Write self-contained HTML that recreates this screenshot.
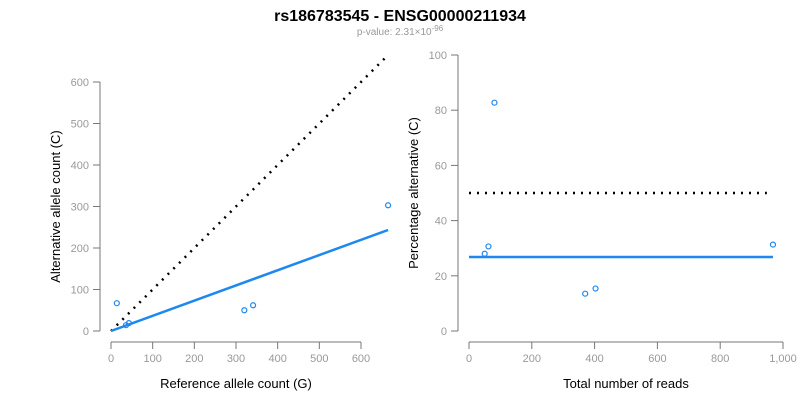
<!DOCTYPE html>
<html><head><meta charset="utf-8"><style>
body{margin:0;background:#fff;font-family:"Liberation Sans",sans-serif}
</style></head><body>
<svg width="800" height="400" font-family="Liberation Sans, sans-serif">
<text x="400" y="21" text-anchor="middle" font-weight="bold" font-size="16">rs186783545 - ENSG00000211934</text>
<text x="400" y="35" text-anchor="middle" font-size="10" fill="#999">p-value: 2.31×10<tspan dy="-4" font-size="8">-96</tspan></text>
<g id="left"></g>
<g id="right"></g>
</svg>
<script>
const refCounts=[14,36,43,320,341,665];
const altCounts=[67,14,19,50,62,303];
const leftXTicks=[0,100,200,300,400,500,600];
const leftYTicks=[0,100,200,300,400,500,600];
const rightXTicks=[0,200,400,600,800,1000];
const rightXLabels=["0","200","400","600","800","1,000"];
const rightYTicks=[0,20,40,60,80,100];
const fitSlope=0.366;
const fitPct=26.8;
const nullPct=50;
const NS="http://www.w3.org/2000/svg";
function mk(p,t,a){const e=document.createElementNS(NS,t);for(const k in a)e.setAttribute(k,a[k]);p.appendChild(e);return e;}
function axes(g,xs,ys,xt,xl,yt,axX,axY,xTitle,yTitle,xMin,xMax,yMin,yMax){
 let a=mk(g,'line',{x1:axX,x2:axX,y1:ys(yMin),y2:ys(yMax),stroke:'#777'});
 
 a=mk(g,'line',{y1:axY,y2:axY,x1:xs(xMin),x2:xs(xMax),stroke:'#777'});
 
 yt.forEach(v=>{mk(g,'line',{x1:axX-7,x2:axX,y1:ys(v),y2:ys(v),stroke:'#777'});
  const t=mk(g,'text',{x:axX-11,y:ys(v)+4,'text-anchor':'end','font-size':11,fill:'#999'});t.textContent=v;
  });
 xt.forEach((v,i)=>{mk(g,'line',{y1:axY,y2:axY+7,x1:xs(v),x2:xs(v),stroke:'#777'});
  const t=mk(g,'text',{x:xs(v),y:axY+20,'text-anchor':'middle','font-size':11,fill:'#999'});t.textContent=xl[i];
  });
 let t=mk(g,'text',{x:(xs(xMin)+xs(xMax))/2,y:axY+46,'text-anchor':'middle','font-size':13});t.textContent=xTitle;
 
 const cy=(ys(yMin)+ys(yMax))/2;
 t=mk(g,'text',{x:axX-40,y:cy,'text-anchor':'middle','font-size':13,transform:`rotate(-90 ${axX-40} ${cy})`});t.textContent=yTitle;
 
}
const L=document.getElementById('left');
const lx=v=>111+v*250/600, ly=v=>331-v*249/600;
axes(L,lx,ly,leftXTicks,leftXTicks.map(String),leftYTicks,100,342,'Reference allele count (G)','Alternative allele count (C)',0,600,0,600);
const maxRef=Math.max(...refCounts);
let e=mk(L,'line',{x1:lx(0),y1:ly(0),x2:lx(maxRef),y2:ly(maxRef),stroke:'#000','stroke-width':2.5,'stroke-dasharray':'2 6'});

e=mk(L,'line',{x1:lx(0),y1:ly(0),x2:lx(maxRef),y2:ly(maxRef*fitSlope),stroke:'#1e88f0','stroke-width':2.5});

refCounts.forEach((r,i)=>{const c=mk(L,'circle',{cx:lx(r),cy:ly(altCounts[i]),r:2.5,fill:'none',stroke:'#1e88f0','stroke-width':1.2});
 });
const R=document.getElementById('right');
const rx=v=>469+v*314/1000, ry=v=>331-v*2.76;
axes(R,rx,ry,rightXTicks,rightXLabels,rightYTicks,458,342,'Total number of reads','Percentage alternative (C)',0,1000,0,100);
const totals=refCounts.map((r,i)=>r+altCounts[i]);
const maxTot=Math.max(...totals);
e=mk(R,'line',{x1:rx(0),y1:ry(nullPct),x2:rx(maxTot*0.98),y2:ry(nullPct),stroke:'#000','stroke-width':2.5,'stroke-dasharray':'2 6'});

e=mk(R,'line',{x1:rx(0),y1:ry(fitPct),x2:rx(maxTot),y2:ry(fitPct),stroke:'#1e88f0','stroke-width':2.5});

totals.forEach((t,i)=>{const c=mk(R,'circle',{cx:rx(t),cy:ry(100*altCounts[i]/t),r:2.5,fill:'none',stroke:'#1e88f0','stroke-width':1.2});
 });
</script>
</body></html>
